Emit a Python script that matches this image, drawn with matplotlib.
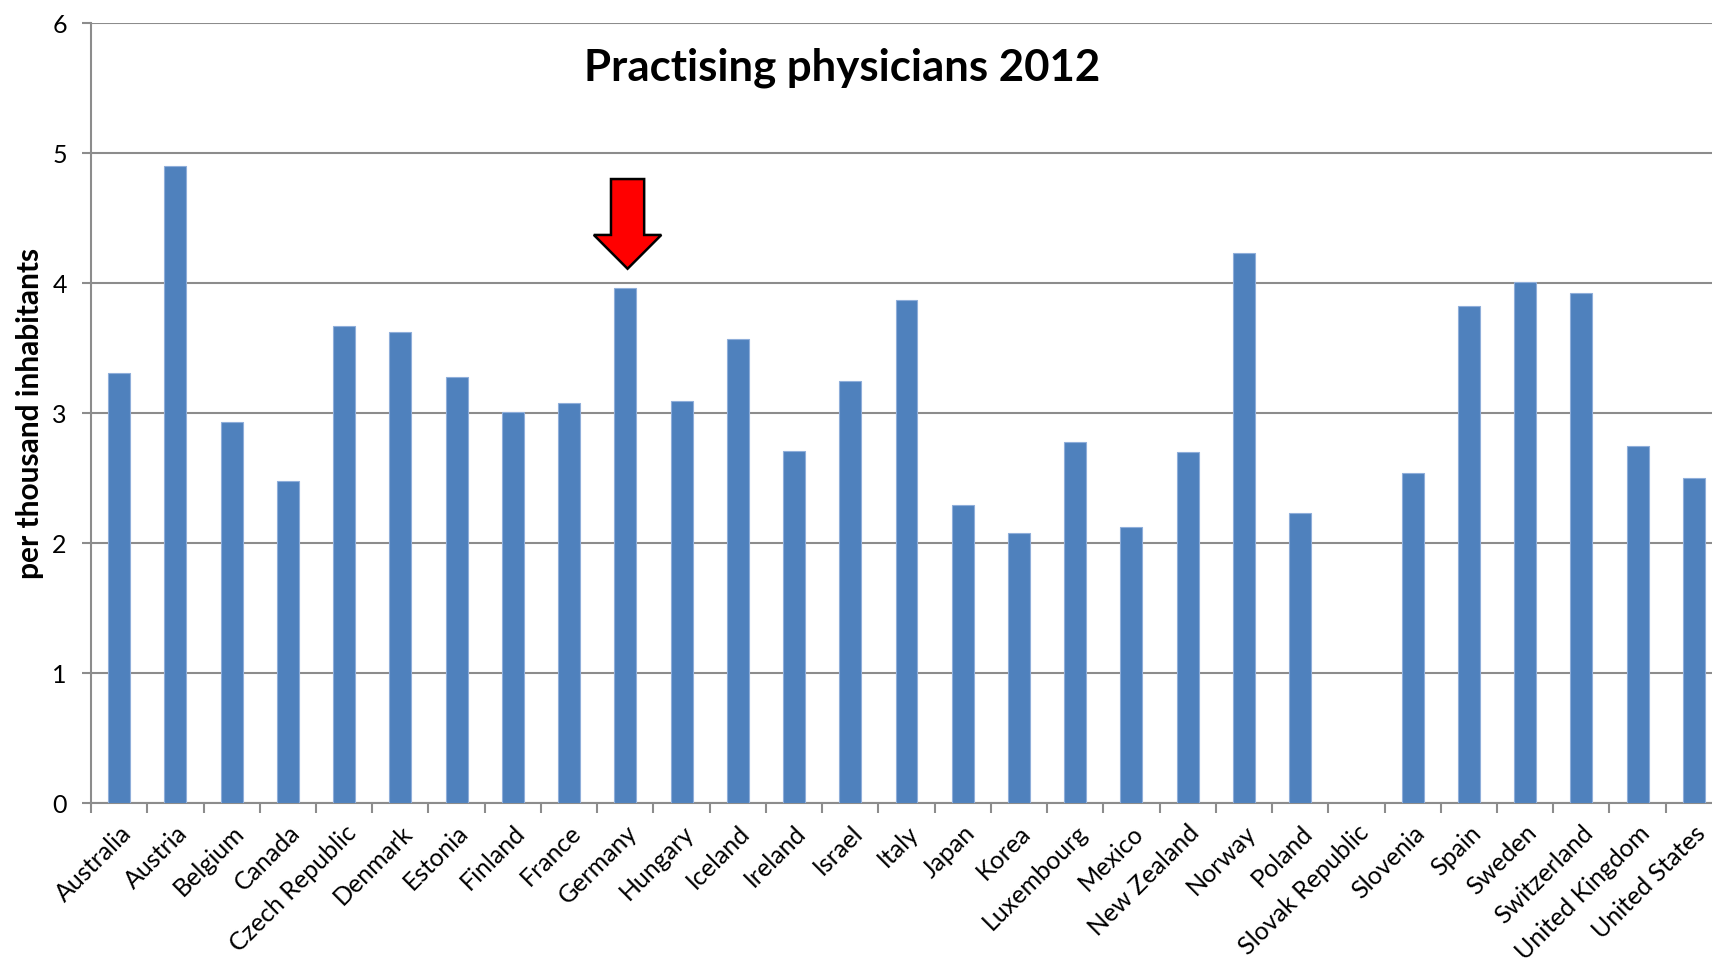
import matplotlib
matplotlib.use("Agg")
import matplotlib.pyplot as plt
import numpy as np
from matplotlib.patches import FancyArrow

plt.rcParams['font.family'] = ['Lato', 'DejaVu Sans']

countries = ['Australia', 'Austria', 'Belgium', 'Canada', 'Czech Republic', 'Denmark',
             'Estonia', 'Finland', 'France', 'Germany', 'Hungary', 'Iceland', 'Ireland',
             'Israel', 'Italy', 'Japan', 'Korea', 'Luxembourg', 'Mexico', 'New Zealand',
             'Norway', 'Poland', 'Slovak Republic', 'Slovenia', 'Spain', 'Sweden',
             'Switzerland', 'United Kingdom', 'United States']
# physicians per 1000 inhabitants, no value for the Slovak Republic
physicians = [3.31, 4.90, 2.93, 2.48, 3.67, 3.62, 3.28, 3.01, 3.08, 3.96, 3.09, 3.57,
              2.71, 3.25, 3.87, 2.29, 2.08, 2.78, 2.12, 2.70, 4.23, 2.23, np.nan, 2.54,
              3.82, 4.01, 3.92, 2.75, 2.50]
highlight = 'Germany'

BAR_COLOR = '#4F81BD'
GRID_COLOR = '#8C8C8C'

fig = plt.figure(figsize=(17.12, 9.6), dpi=100)
# axes runs a little past the right edge of the figure
ax = fig.add_axes([0.0532, 0.1635, 0.9526, 0.8125])

x = np.arange(len(countries))
ax.bar(x, physicians, width=0.39, color=BAR_COLOR, edgecolor='#8FAEDA', linewidth=0.8, zorder=3)

ax.set_xlim(-0.5, len(countries) - 0.5)
ax.set_ylim(0, 6)
ax.set_yticks(range(7))
ax.yaxis.grid(True, color=GRID_COLOR, linewidth=1.5, zorder=0)
ax.set_axisbelow(True)

for side in ['top', 'right']:
    ax.spines[side].set_visible(False)
for side in ['left', 'bottom']:
    ax.spines[side].set_color(GRID_COLOR)
    ax.spines[side].set_linewidth(1.5)

# ticks between categories, labels centred on the bars
ax.set_xticks(np.arange(len(countries) + 1) - 0.5)
ax.set_xticklabels([])
ax.set_xticks(x, minor=True)
ax.set_xticklabels(countries, minor=True, rotation=45, ha='right', va='top',
                   rotation_mode='anchor', fontsize=18)
ax.tick_params(axis='x', which='minor', length=0, pad=13)
ax.tick_params(axis='x', which='major', length=7, width=1.5, color=GRID_COLOR)
ax.tick_params(axis='y', length=6.5, width=1.5, color=GRID_COLOR, labelsize=18, pad=11)

ax.set_ylabel('per thousand inhabitants', fontsize=21.5, fontweight='bold', labelpad=6)
ax.text(0.4605, 0.943, 'Practising physicians 2012', transform=ax.transAxes,
        ha='center', va='center', fontsize=31.5, fontweight='bold')

# red arrow pointing at Germany
gi = countries.index(highlight)
top, tip = 4.80, physicians[gi] + 0.15
ax.add_patch(FancyArrow(gi + 0.04, top, 0, tip - top, width=0.59, head_width=1.2,
                        head_length=0.26, length_includes_head=True,
                        facecolor='red', edgecolor='black', linewidth=1.8, zorder=4))

fig.savefig('out.png', dpi=100)
